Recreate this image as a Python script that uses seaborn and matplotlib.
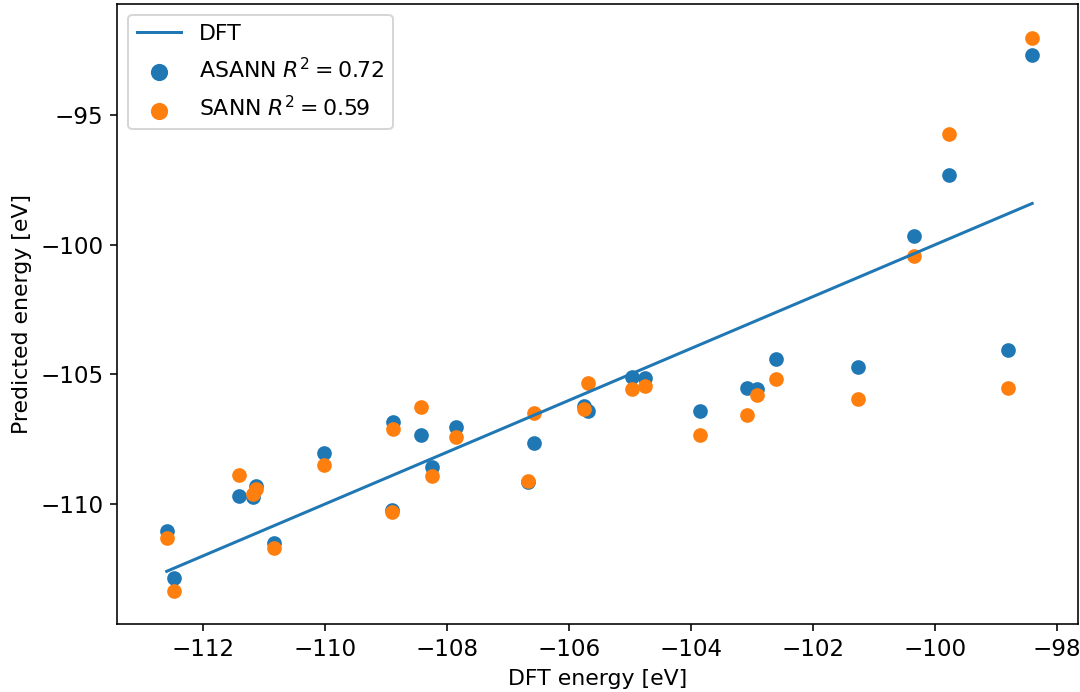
import numpy as np
import pandas as pd
import seaborn as sns
import matplotlib
matplotlib.use("Agg")
import matplotlib.pyplot as plt

# DFT reference energies [eV]
dft = [-112.59, -112.47, -111.41, -111.12, -111.18, -110.84, -110.02, -108.90, -108.88,
       -108.42, -108.24, -107.85, -106.67, -106.57, -105.76, -105.68, -104.96, -104.75,
       -103.85, -103.09, -102.92, -102.61, -101.27, -100.34, -99.77, -98.80, -98.41]

# predicted energies [eV]
asann = [-111.04, -112.84, -109.69, -109.31, -109.72, -111.51, -108.03, -110.22, -106.83,
         -107.34, -108.56, -107.02, -109.16, -107.64, -106.23, -106.42, -105.10, -105.12,
         -106.42, -105.51, -105.55, -104.42, -104.72, -99.68, -97.31, -104.05, -92.69]
sann = [-111.30, -113.35, -108.86, -109.40, -109.62, -111.71, -108.50, -110.30, -107.09,
        -106.25, -108.92, -107.41, -109.10, -106.49, -106.32, -105.35, -105.58, -105.46,
        -107.34, -106.55, -105.80, -105.16, -105.93, -100.42, -95.73, -105.51, -92.04]

r2_asann = 0.72
r2_sann = 0.59

df = pd.DataFrame({"dft": dft, "asann": asann, "sann": sann})

plt.rcParams["font.size"] = 11
plt.rcParams["xtick.labelsize"] = 11.5
plt.rcParams["ytick.labelsize"] = 11.5

fig = plt.figure(figsize=(1080 / 144, 692 / 144), dpi=144)
ax = fig.add_axes([0.1086, 0.0983, 0.8895, 0.896])

sns.lineplot(data=df, x="dft", y="dft", ax=ax, color="#1f77b4", linewidth=1.5, label="DFT")
sns.scatterplot(data=df, x="dft", y="asann", ax=ax, color="#1f77b4", s=40,
                edgecolor="face", linewidth=1, label=f"ASANN $R^2 = {r2_asann}$")
sns.scatterplot(data=df, x="dft", y="sann", ax=ax, color="#ff7f0e", s=40,
                edgecolor="face", linewidth=1, label=f"SANN $R^2 = {r2_sann}$")

ax.set_xlim(-113.40, -97.66)
ax.set_ylim(-114.62, -90.72)
ax.set_xlabel("DFT energy [eV]")
ax.set_ylabel("Predicted energy [eV]")
ax.legend(loc="upper left", labelspacing=0.6, markerscale=1.2)

fig.savefig("out.png", dpi=144)
